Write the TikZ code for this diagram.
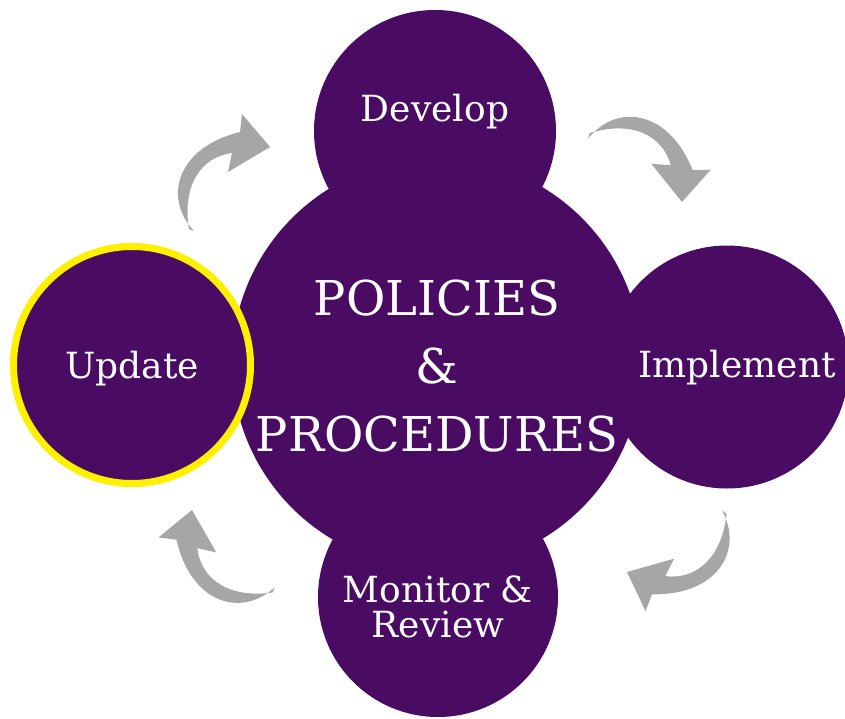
\documentclass[tikz,border=0pt]{standalone}
\usepackage{fontspec}
\setmainfont{DejaVu Serif}
\definecolor{policypurple}{RGB}{74,12,99}
\definecolor{arrowgray}{RGB}{166,166,166}
\definecolor{ringyellow}{RGB}{255,240,0}

\begin{document}
\begin{tikzpicture}[x=1pt, y=-1pt]
\tikzset{ inner sep=0pt, outer sep=0pt,
  bubble/.style={circle, fill=policypurple},
  word/.style={text=white, align=center, font=\fontsize{36}{35}\selectfont},
  bigword/.style={text=white, align=center, font=\fontsize{48}{68}\selectfont},
  cycarrow/.pic={
    \fill [arrowgray] (-76,84) .. controls (-108,50) and (-92,0) .. (-30,-15)
      -- (-28,-33) -- (0,0) -- (-42,25) -- (-38,6)
      .. controls (-70,10) and (-88,40) .. (-81,82) -- cycle;
  },
}

\useasboundingbox (0,0) rectangle (845,719);

\node [bubble, minimum size=410pt] (P) at (437,363) {};
\node [bubble, minimum size=242pt] (D) at (435,131) {};
\node [bubble, minimum size=243pt] (I) at (727,367) {};
\node [bubble, minimum size=240pt] (M) at (438,597) {};
\node [bubble, draw=ringyellow, line width=7pt, minimum size=237pt] (U) at (132,365) {};

\node [word, anchor=base] (Dt) at (435,122) {Develop};
\node [word, anchor=base] (It) at (737,377) {Implement};
\node [word, anchor=base] (Ut) at (132,378) {Update};
\node [word] (Mt) at (438,607) {Monitor \&\\Review};
\node [bigword] (Pt) at (437,366) {POLICIES\\\&\\PROCEDURES};

\pic at (270,147) {cycarrow};
\pic [rotate=-82] at (682,202) {cycarrow};
\pic [rotate=165] at (627,572) {cycarrow};
\pic [rotate=89] at (192,510) {cycarrow};

\end{tikzpicture}
\end{document}
